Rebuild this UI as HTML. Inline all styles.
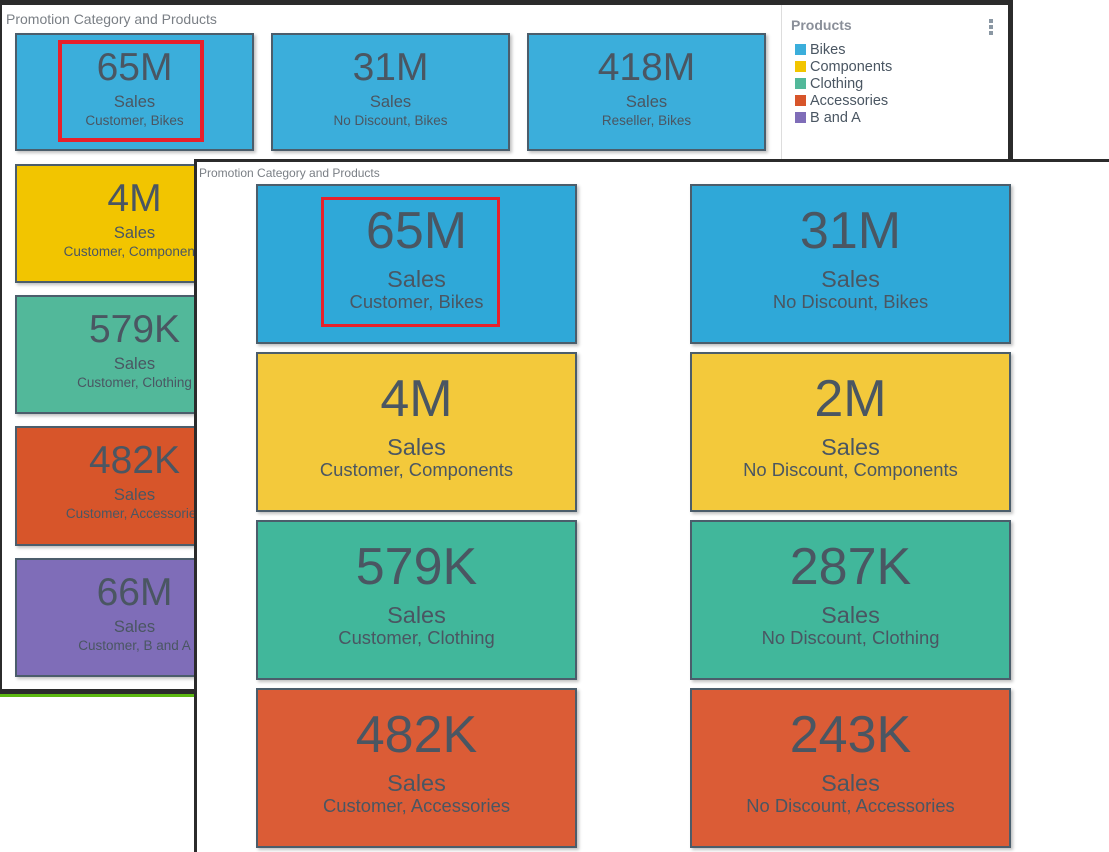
<!DOCTYPE html>
<html><head><style>
body{margin:0;width:1109px;height:852px;background:#fff;position:relative;overflow:hidden;font-family:"Liberation Sans",Arial,sans-serif}
.p{position:absolute;box-sizing:border-box;background:#fff}
.t{position:absolute;box-sizing:border-box;border:2px solid #4b5d6b;box-shadow:2px 2px 3px rgba(0,0,0,.25);color:#4a5662;text-align:center}
.t div{position:absolute;left:0;right:0;white-space:nowrap;line-height:1}
.b .v{top:13px;font-size:39px}.b .s{top:59px;font-size:16.5px}.b .c{top:79px;font-size:13.5px}
.f .v{top:19px;font-size:52px}.f .s{top:82px;font-size:23.5px}.f .c{top:107px;font-size:18.4px}
.bl{background:#3baedb}.y{background:#f2c500}.g{background:#52b89a}.o{background:#d7552a}.pu{background:#7f6db8}
.fb{background:#2fa8d8}.fy{background:#f3c93b}.fg{background:#41b79b}.fo{background:#db5c36}
.red{position:absolute;box-sizing:border-box;border:4px solid #e8202a}
.lg{position:absolute;left:795px;font-size:14.5px;color:#4a5662}
.lg span{display:inline-block;width:11px;height:11px;margin-right:4px;vertical-align:-1px}
</style></head><body>
<div class="p" style="left:0;top:0;width:1013px;height:694px;border:solid #2b2b2b;border-width:5px 5px 5px 2px"></div>
<div style="position:absolute;left:0;top:694px;width:194px;height:3px;background:#5cb811"></div>
<div style="position:absolute;left:6px;top:11px;font-size:14px;color:#7a7f85">Promotion Category and Products</div>
<div style="position:absolute;left:781px;top:5px;width:1px;height:154px;background:#ddd"></div>
<div style="position:absolute;left:791px;top:17px;font-size:14px;font-weight:bold;color:#8a8f99">Products</div>
<div style="position:absolute;left:989px;top:19px;width:4px;height:4px;background:#8a97a3;box-shadow:0 6px 0 #8a97a3,0 12px 0 #8a97a3"></div>
<div class="lg" style="top:42px"><span style="background:#3baedb"></span>Bikes</div>
<div class="lg" style="top:59px"><span style="background:#f2c500"></span>Components</div>
<div class="lg" style="top:76px"><span style="background:#52b89a"></span>Clothing</div>
<div class="lg" style="top:93px"><span style="background:#d7552a"></span>Accessories</div>
<div class="lg" style="top:110px"><span style="background:#7f6db8"></span>B and A</div>

<div class="t b bl" style="left:15px;top:33px;width:239px;height:118px"><div class="v">65M</div><div class="s">Sales</div><div class="c">Customer, Bikes</div></div>
<div class="t b bl" style="left:271px;top:33px;width:239px;height:118px"><div class="v">31M</div><div class="s">Sales</div><div class="c">No Discount, Bikes</div></div>
<div class="t b bl" style="left:527px;top:33px;width:239px;height:118px"><div class="v">418M</div><div class="s">Sales</div><div class="c">Reseller, Bikes</div></div>
<div class="t b y" style="left:15px;top:164px;width:239px;height:119px"><div class="v">4M</div><div class="s">Sales</div><div class="c">Customer, Components</div></div>
<div class="t b g" style="left:15px;top:295px;width:239px;height:119px"><div class="v">579K</div><div class="s">Sales</div><div class="c">Customer, Clothing</div></div>
<div class="t b o" style="left:15px;top:426px;width:239px;height:120px"><div class="v">482K</div><div class="s">Sales</div><div class="c">Customer, Accessories</div></div>
<div class="t b pu" style="left:15px;top:558px;width:239px;height:119px"><div class="v">66M</div><div class="s">Sales</div><div class="c">Customer, B and A</div></div>
<div class="red" style="left:58px;top:40px;width:146px;height:102px"></div>

<div class="p" style="left:194px;top:159px;width:915px;height:693px;border:solid #2b2b2b;border-width:3px 0 0 3px"></div>
<div style="position:absolute;left:199px;top:166px;font-size:12px;color:#7a7f85">Promotion Category and Products</div>

<div class="t f fb" style="left:256px;top:184px;width:321px;height:160px"><div class="v">65M</div><div class="s">Sales</div><div class="c">Customer, Bikes</div></div>
<div class="t f fb" style="left:690px;top:184px;width:321px;height:160px"><div class="v">31M</div><div class="s">Sales</div><div class="c">No Discount, Bikes</div></div>
<div class="t f fy" style="left:256px;top:352px;width:321px;height:160px"><div class="v">4M</div><div class="s">Sales</div><div class="c">Customer, Components</div></div>
<div class="t f fy" style="left:690px;top:352px;width:321px;height:160px"><div class="v">2M</div><div class="s">Sales</div><div class="c">No Discount, Components</div></div>
<div class="t f fg" style="left:256px;top:520px;width:321px;height:160px"><div class="v">579K</div><div class="s">Sales</div><div class="c">Customer, Clothing</div></div>
<div class="t f fg" style="left:690px;top:520px;width:321px;height:160px"><div class="v">287K</div><div class="s">Sales</div><div class="c">No Discount, Clothing</div></div>
<div class="t f fo" style="left:256px;top:688px;width:321px;height:160px"><div class="v">482K</div><div class="s">Sales</div><div class="c">Customer, Accessories</div></div>
<div class="t f fo" style="left:690px;top:688px;width:321px;height:160px"><div class="v">243K</div><div class="s">Sales</div><div class="c">No Discount, Accessories</div></div>
<div class="red" style="left:321px;top:197px;width:179px;height:130px;border-width:3px"></div>
</body></html>
